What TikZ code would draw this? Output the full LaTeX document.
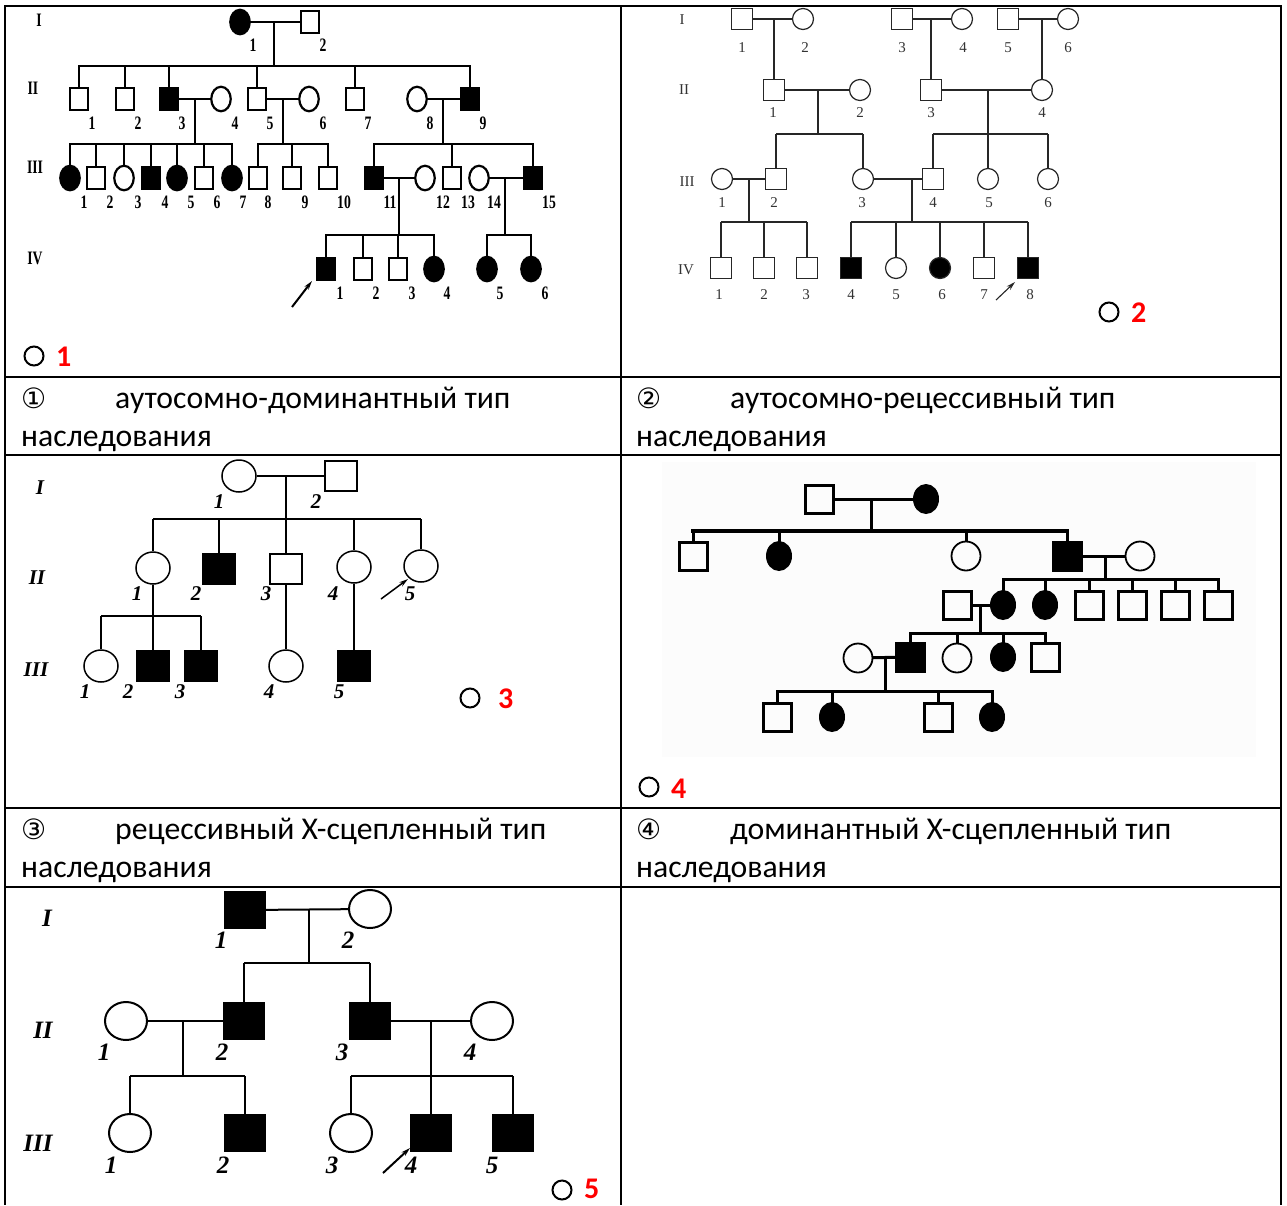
\documentclass[tikz,border=0pt]{standalone}
\usepackage{fontspec}
\setmainfont{Carlito}
\newfontfamily\dejavu{DejaVu Sans}
\newfontfamily\tserif{Liberation Serif}
\newfontfamily\cserif[FakeStretch=0.72]{Liberation Serif}
\usetikzlibrary{shapes.geometric,arrows.meta}
\tikzset{
 aff/.style={fill=black},
 l1/.style={line width=2.2pt,line cap=rect},
 sqA/.style={draw,rectangle,line width=2.2pt,minimum width=18.5pt,minimum height=22.5pt,inner sep=0pt},
 ciA/.style={draw,ellipse,line width=2.2pt,minimum width=19.5pt,minimum height=24.5pt,inner sep=0pt},
 labA/.style={font=\cserif\bfseries\fontsize{19}{19}\selectfont,inner sep=0pt},
 l2/.style={line width=1.2pt,draw=black!85},
 sqB/.style={draw=black!85,rectangle,line width=1.2pt,minimum size=21pt,inner sep=0pt},
 ciB/.style={draw=black!85,circle,line width=1.2pt,minimum size=21pt,inner sep=0pt},
 labB/.style={font=\tserif\fontsize{15}{15}\selectfont,text=black!80,inner sep=0pt},
 l3/.style={line width=1.5pt},
 sqC/.style={draw,rectangle,line width=1.5pt,minimum width=32pt,minimum height=30pt,inner sep=0pt},
 ciC/.style={draw,ellipse,line width=1.5pt,minimum width=34pt,minimum height=32pt,inner sep=0pt},
 labC/.style={font=\tserif\bfseries\itshape\fontsize{21}{21}\selectfont,inner sep=0pt},
 l4/.style={line width=3pt,line cap=rect},
 sqD/.style={draw,rectangle,line width=3pt,minimum width=28pt,minimum height=28pt,inner sep=0pt},
 ciD/.style={draw,ellipse,line width=1.8pt,minimum width=29pt,minimum height=29pt,inner sep=0pt},
 fcD/.style={ellipse,fill=black,minimum width=26pt,minimum height=30pt,inner sep=0pt},
 l5/.style={line width=2pt},
 sqE/.style={draw,rectangle,line width=2pt,minimum width=40pt,minimum height=36pt,inner sep=0pt},
 ciE/.style={draw,ellipse,line width=2pt,minimum width=42pt,minimum height=38pt,inner sep=0pt},
 labE/.style={font=\tserif\bfseries\itshape\fontsize{25}{25}\selectfont,inner sep=0pt},
 mk/.style={draw,circle,line width=2pt,minimum size=19pt,inner sep=0pt},
 num/.style={font=\bfseries\fontsize{30}{30}\selectfont,text=red,anchor=west,inner sep=0pt},
 txt/.style={font=\fontsize{31.7}{38}\selectfont,anchor=base west,inner sep=0pt},
 cnum/.style={font=\dejavu\fontsize{28}{28}\selectfont,anchor=base west,inner sep=0pt},
 arr/.style={-{Stealth[length=9pt,width=5pt]}},
 tbl/.style={line width=2pt}
}
\begin{document}
\begin{tikzpicture}[x=1pt,y=-1pt]
\useasboundingbox (0,0) rectangle (1287,1205);
\fill[white] (0,0) rectangle (1287,1205);
\fill[black!1.2] (662,462) rectangle (1256,757);
% table
\foreach \yy in {6,377,455,808,887} \draw[tbl] (4,\yy) -- (1282,\yy);
\foreach \xx in {5,621,1281} \draw[tbl] (\xx,5) -- (\xx,1205);

% ============ Pedigree 1 ============
\node[labA] (p1r1) at (39,20) {I};
\node[labA] (p1r2) at (33,88) {II};
\node[labA] (p1r3) at (35,167) {III};
\node[labA] (p1r4) at (35,258) {IV};
\node[ciA,aff] (p1a1) at (240,22) {};
\node[sqA] (p1a2) at (310,22) {};
\node[sqA] (p1b1) at (79,99) {};
\node[sqA] (p1b2) at (125,99) {};
\node[sqA,aff] (p1b3) at (169,99) {};
\node[ciA] (p1b4) at (221,99) {};
\node[sqA] (p1b5) at (257,99) {};
\node[ciA] (p1b6) at (309,99) {};
\node[sqA] (p1b7) at (355,99) {};
\node[ciA] (p1b8) at (417,99) {};
\node[sqA,aff] (p1b9) at (470,99) {};
\node[ciA,aff] (p1c1) at (70,178) {};
\node[sqA] (p1c2) at (96,178) {};
\node[ciA] (p1c3) at (124,178) {};
\node[sqA,aff] (p1c4) at (151,178) {};
\node[ciA,aff] (p1c5) at (177,178) {};
\node[sqA] (p1c6) at (204,178) {};
\node[ciA,aff] (p1c7) at (232,178) {};
\node[sqA] (p1c8) at (258,178) {};
\node[sqA] (p1c9) at (292,178) {};
\node[sqA] (p1c10) at (328,178) {};
\node[sqA,aff] (p1c11) at (374,178) {};
\node[ciA] (p1c12) at (425,178) {};
\node[sqA] (p1c13) at (452,178) {};
\node[ciA] (p1c14) at (479,178) {};
\node[sqA,aff] (p1c15) at (533,178) {};
\node[sqA,aff] (p1d1) at (326,269) {};
\node[sqA] (p1d2) at (363,269) {};
\node[sqA] (p1d3) at (398,269) {};
\node[ciA,aff] (p1d4) at (434,269) {};
\node[ciA,aff] (p1d5) at (487,269) {};
\node[ciA,aff] (p1d6) at (531,269) {};
\draw[l1] (p1a1) -- (p1a2);
\coordinate (p1j1) at (274,22); \coordinate (p1s1) at (274,66);
\draw[l1] (p1j1) -- (p1s1);
\draw[l1] (p1b1 |- p1s1) -- (p1b9 |- p1s1);
\foreach \n in {b1,b2,b3,b5,b7,b9} \draw[l1] (p1\n |- p1s1) -- (p1\n.north);
\draw[l1] (p1b3) -- (p1b4);
\coordinate (p1j2) at (195,99); \coordinate (p1s2) at (195,144);
\draw[l1] (p1j2) -- (p1s2);
\draw[l1] (p1c1 |- p1s2) -- (p1c7 |- p1s2);
\foreach \n in {c1,c2,c3,c4,c5,c6,c7} \draw[l1] (p1\n |- p1s2) -- (p1\n.north);
\draw[l1] (p1b5) -- (p1b6);
\coordinate (p1j3) at (283,99); \coordinate (p1s3) at (283,144);
\draw[l1] (p1j3) -- (p1s3);
\draw[l1] (p1c8 |- p1s3) -- (p1c10 |- p1s3);
\foreach \n in {c8,c9,c10} \draw[l1] (p1\n |- p1s3) -- (p1\n.north);
\draw[l1] (p1b8) -- (p1b9);
\coordinate (p1j4) at (443,99); \coordinate (p1s4) at (443,144);
\draw[l1] (p1j4) -- (p1s4);
\draw[l1] (p1c11 |- p1s4) -- (p1c15 |- p1s4);
\foreach \n in {c11,c13,c15} \draw[l1] (p1\n |- p1s4) -- (p1\n.north);
\draw[l1] (p1c11) -- (p1c12);
\coordinate (p1j5) at (399,178); \coordinate (p1s5) at (399,235);
\draw[l1] (p1j5) -- (p1s5);
\draw[l1] (p1d1 |- p1s5) -- (p1d4 |- p1s5);
\foreach \n in {d1,d2,d3,d4} \draw[l1] (p1\n |- p1s5) -- (p1\n.north);
\draw[l1] (p1c14) -- (p1c15);
\coordinate (p1j6) at (505,178); \coordinate (p1s6) at (505,235);
\draw[l1] (p1j6) -- (p1s6);
\draw[l1] (p1d5 |- p1s6) -- (p1d6 |- p1s6);
\foreach \n in {d5,d6} \draw[l1] (p1\n |- p1s6) -- (p1\n.north);
\coordinate (p1w0) at (292,307); \coordinate (p1w1) at (312,281);
\draw[arr,line width=2pt] (p1w0) -- (p1w1);
\foreach \x/\t [count=\k] in {253/1,323/2} \node[labA] (p1la\k) at (\x,45) {\t};
\foreach \x [count=\k] in {92,138,182,235,270,323,368,430,483} \node[labA] (p1lb\k) at (\x,123) {\k};
\foreach \x [count=\k] in {84,110,138,165,191,217,243,268,305,344,390,443,468,494,549} \node[labA] (p1lc\k) at (\x,202) {\k};
\foreach \x [count=\k] in {340,376,412,447,500,545} \node[labA] (p1ld\k) at (\x,293) {\k};
\node[mk] (mk1) at (34,356) {};
\node[num] (nm1) at (56,357) {1};

% ============ Pedigree 2 ============
\node[labB] (p2r1) at (682,20) {I};
\node[labB] (p2r2) at (684,90) {II};
\node[labB] (p2r3) at (687,182) {III};
\node[labB] (p2r4) at (686,270) {IV};
\node[sqB] (p2a1) at (742,19) {};
\node[ciB] (p2a2) at (803,19) {};
\node[sqB] (p2a3) at (902,19) {};
\node[ciB] (p2a4) at (962,19) {};
\node[sqB] (p2a5) at (1008,19) {};
\node[ciB] (p2a6) at (1068,19) {};
\node[sqB] (p2b1) at (774,90) {};
\node[ciB] (p2b2) at (860,90) {};
\node[sqB] (p2b3) at (931,90) {};
\node[ciB] (p2b4) at (1042,90) {};
\node[ciB] (p2c1) at (722,179) {};
\node[sqB] (p2c2) at (776,179) {};
\node[ciB] (p2c3) at (863,179) {};
\node[sqB] (p2c4) at (933,179) {};
\node[ciB] (p2c5) at (988,179) {};
\node[ciB] (p2c6) at (1048,179) {};
\node[sqB] (p2d1) at (721,268) {};
\node[sqB] (p2d2) at (764,268) {};
\node[sqB] (p2d3) at (807,268) {};
\node[sqB,aff] (p2d4) at (851,268) {};
\node[ciB] (p2d5) at (896,268) {};
\node[ciB,aff] (p2d6) at (940,268) {};
\node[sqB] (p2d7) at (984,268) {};
\node[sqB,aff] (p2d8) at (1028,268) {};
\draw[l2] (p2a1) -- (p2a2);
\coordinate (p2j1) at (774,19); \draw[l2] (p2j1) -- (p2b1);
\draw[l2] (p2a3) -- (p2a4);
\coordinate (p2j2) at (931,19); \draw[l2] (p2j2) -- (p2b3);
\draw[l2] (p2a5) -- (p2a6);
\coordinate (p2j3) at (1042,19); \draw[l2] (p2j3) -- (p2b4);
\draw[l2] (p2b1) -- (p2b2);
\coordinate (p2j4) at (818,90); \coordinate (p2s4) at (818,134);
\draw[l2] (p2j4) -- (p2s4);
\draw[l2] (p2c2 |- p2s4) -- (p2c3 |- p2s4);
\foreach \n in {c2,c3} \draw[l2] (p2\n |- p2s4) -- (p2\n.north);
\draw[l2] (p2b3) -- (p2b4);
\coordinate (p2j5) at (988,90); \coordinate (p2s5) at (988,134);
\draw[l2] (p2j5) -- (p2s5);
\draw[l2] (p2c4 |- p2s5) -- (p2c6 |- p2s5);
\foreach \n in {c4,c5,c6} \draw[l2] (p2\n |- p2s5) -- (p2\n.north);
\draw[l2] (p2c1) -- (p2c2);
\coordinate (p2j6) at (749,179); \coordinate (p2s6) at (749,222);
\draw[l2] (p2j6) -- (p2s6);
\draw[l2] (p2d1 |- p2s6) -- (p2d3 |- p2s6);
\foreach \n in {d1,d2,d3} \draw[l2] (p2\n |- p2s6) -- (p2\n.north);
\draw[l2] (p2c3) -- (p2c4);
\coordinate (p2j7) at (912,179); \coordinate (p2s7) at (912,222);
\draw[l2] (p2j7) -- (p2s7);
\draw[l2] (p2d4 |- p2s7) -- (p2d8 |- p2s7);
\foreach \n in {d4,d5,d6,d7,d8} \draw[l2] (p2\n |- p2s7) -- (p2\n.north);
\coordinate (p2w0) at (996,300); \coordinate (p2w1) at (1015,282);
\draw[arr,line width=1.1pt,draw=black!85] (p2w0) -- (p2w1);
\foreach \x [count=\k] in {742,805,902,963,1008,1068} \node[labB] (p2la\k) at (\x,48) {\k};
\foreach \x [count=\k] in {773,860,931,1042} \node[labB] (p2lb\k) at (\x,113) {\k};
\foreach \x [count=\k] in {722,774,862,933,989,1048} \node[labB] (p2lc\k) at (\x,203) {\k};
\foreach \x [count=\k] in {719,764,806,851,896,942,984,1030} \node[labB] (p2ld\k) at (\x,295) {\k};
\node[mk] (mk2) at (1109,312) {};
\node[num] (nm2) at (1131,313) {2};

% ============ Pedigree 3 ============
\node[labC] (p3r1) at (40,488) {I};
\node[labC] (p3r2) at (37,578) {II};
\node[labC] (p3r3) at (36,670) {III};
\node[ciC] (p3a1) at (239,476) {};
\node[sqC] (p3a2) at (341,476) {};
\node[ciC] (p3b1) at (153,568) {};
\node[sqC,aff] (p3b2) at (219,569) {};
\node[sqC] (p3b3) at (286,569) {};
\node[ciC] (p3b4) at (354,567) {};
\node[ciC] (p3b5) at (421,566) {};
\node[ciC] (p3c1) at (101,666) {};
\node[sqC,aff] (p3c2) at (153,666) {};
\node[sqC,aff] (p3c3) at (201,666) {};
\node[ciC] (p3c4) at (286,666) {};
\node[sqC,aff] (p3c5) at (354,666) {};
\draw[l3] (p3a1) -- (p3a2);
\coordinate (p3j1) at (286,476); \coordinate (p3s1) at (286,519);
\draw[l3] (p3j1) -- (p3s1);
\draw[l3] (p3b1 |- p3s1) -- (p3b5 |- p3s1);
\foreach \n in {b1,b2,b3,b4,b5} \draw[l3] (p3\n |- p3s1) -- (p3\n.north);
\draw[l3] (p3b1) -- (p3c2);
\coordinate (p3s2) at (153,616);
\draw[l3] (p3c1 |- p3s2) -- (p3c3 |- p3s2);
\foreach \n in {c1,c3} \draw[l3] (p3\n |- p3s2) -- (p3\n.north);
\draw[l3] (p3b3) -- (p3c4);
\draw[l3] (p3b4) -- (p3c5);
\coordinate (p3w0) at (381,599); \coordinate (p3w1) at (408,579);
\draw[arr,line width=1.5pt] (p3w0) -- (p3w1);
\foreach \x [count=\k] in {219,316} \node[labC] (p3la\k) at (\x,502) {\k};
\foreach \x [count=\k] in {137,196,266,333,410} \node[labC] (p3lb\k) at (\x,594) {\k};
\foreach \x [count=\k] in {85,128,180,269,339} \node[labC] (p3lc\k) at (\x,692) {\k};
\node[mk] (mk3) at (470,698) {};
\node[num] (nm3) at (498,699) {3};

% ============ Pedigree 4 ============
\node[sqD] (p4a1) at (819,499) {};
\node[fcD] (p4a2) at (926,499) {};
\node[sqD] (p4b1) at (693,556) {};
\node[fcD] (p4b2) at (779,556) {};
\node[ciD] (p4b3) at (966,556) {};
\node[sqD,aff] (p4b4) at (1067,556) {};
\node[ciD] (p4b5) at (1140,556) {};
\node[sqD] (p4c1) at (957,605) {};
\node[fcD] (p4c2) at (1003,605) {};
\node[fcD] (p4c3) at (1045,605) {};
\node[sqD] (p4c4) at (1089,605) {};
\node[sqD] (p4c5) at (1132,605) {};
\node[sqD] (p4c6) at (1175,605) {};
\node[sqD] (p4c7) at (1218,605) {};
\node[ciD] (p4d1) at (858,658) {};
\node[sqD,aff] (p4d2) at (910,657) {};
\node[ciD] (p4d3) at (957,658) {};
\node[fcD] (p4d4) at (1003,657) {};
\node[sqD] (p4d5) at (1045,657) {};
\node[sqD] (p4e1) at (777,717) {};
\node[fcD] (p4e2) at (832,717) {};
\node[sqD] (p4e3) at (938,717) {};
\node[fcD] (p4e4) at (992,717) {};
\draw[l4] (p4a1) -- (p4a2);
\coordinate (p4j1) at (871,499); \coordinate (p4s1) at (871,531);
\draw[l4] (p4j1) -- (p4s1);
\draw[l4,line width=4.5pt] (p4b1 |- p4s1) -- (p4b4 |- p4s1);
\foreach \n in {b1,b2,b3,b4} \draw[l4] (p4\n |- p4s1) -- (p4\n.north);
\draw[l4] (p4b4) -- (p4b5);
\coordinate (p4j2) at (1105,556); \coordinate (p4s2) at (1105,579);
\draw[l4] (p4j2) -- (p4s2);
\draw[l4] (p4c2 |- p4s2) -- (p4c7 |- p4s2);
\foreach \n in {c2,c3,c4,c5,c6,c7} \draw[l4] (p4\n |- p4s2) -- (p4\n.north);
\draw[l4] (p4c1) -- (p4c2);
\coordinate (p4j3) at (980,605); \coordinate (p4s3) at (980,633);
\draw[l4] (p4j3) -- (p4s3);
\draw[l4] (p4d2 |- p4s3) -- (p4d5 |- p4s3);
\foreach \n in {d2,d3,d4,d5} \draw[l4] (p4\n |- p4s3) -- (p4\n.north);
\draw[l4] (p4d1) -- (p4d2);
\coordinate (p4j4) at (885,658); \coordinate (p4s4) at (885,691);
\draw[l4] (p4j4) -- (p4s4);
\draw[l4] (p4e1 |- p4s4) -- (p4e4 |- p4s4);
\foreach \n in {e1,e2,e3,e4} \draw[l4] (p4\n |- p4s4) -- (p4\n.north);
\node[mk] (mk4) at (649,787) {};
\node[num] (nm4) at (671,789) {4};

% ============ Pedigree 5 ============
\node[labE] (p5r1) at (47,918) {I};
\node[labE] (p5r2) at (43,1030) {II};
\node[labE] (p5r3) at (38,1143) {III};
\node[sqE,aff] (p5a1) at (245,910) {};
\node[ciE] (p5a2) at (370,909) {};
\node[ciE] (p5b1) at (126,1021) {};
\node[sqE,aff] (p5b2) at (244,1021) {};
\node[sqE,aff] (p5b3) at (370,1021) {};
\node[ciE] (p5b4) at (492,1021) {};
\node[ciE] (p5c1) at (130,1133) {};
\node[sqE,aff] (p5c2) at (245,1133) {};
\node[ciE] (p5c3) at (351,1133) {};
\node[sqE,aff] (p5c4) at (431,1133) {};
\node[sqE,aff] (p5c5) at (513,1133) {};
\draw[l5] (p5a1) -- (p5a2);
\coordinate (p5j1) at (309,909); \coordinate (p5s1) at (309,963);
\draw[l5] (p5j1) -- (p5s1);
\draw[l5] (p5b2 |- p5s1) -- (p5b3 |- p5s1);
\foreach \n in {b2,b3} \draw[l5] (p5\n |- p5s1) -- (p5\n.north);
\draw[l5] (p5b1) -- (p5b2);
\coordinate (p5j2) at (183,1021); \coordinate (p5s2) at (183,1076);
\draw[l5] (p5j2) -- (p5s2);
\draw[l5] (p5c1 |- p5s2) -- (p5c2 |- p5s2);
\foreach \n in {c1,c2} \draw[l5] (p5\n |- p5s2) -- (p5\n.north);
\draw[l5] (p5b3) -- (p5b4);
\coordinate (p5j3) at (431,1021); \coordinate (p5s3) at (431,1076);
\draw[l5] (p5j3) -- (p5s3);
\draw[l5] (p5c3 |- p5s3) -- (p5c5 |- p5s3);
\foreach \n in {c3,c4,c5} \draw[l5] (p5\n |- p5s3) -- (p5\n.north);
\coordinate (p5w0) at (383,1173); \coordinate (p5w1) at (410,1148);
\draw[arr,line width=2pt] (p5w0) -- (p5w1);
\foreach \x [count=\k] in {221,348} \node[labE] (p5la\k) at (\x,940) {\k};
\foreach \x [count=\k] in {104,222,342,470} \node[labE] (p5lb\k) at (\x,1052) {\k};
\foreach \x [count=\k] in {111,223,332,411,492} \node[labE] (p5lc\k) at (\x,1165) {\k};
\node[mk] (mk5) at (562,1190) {};
\node[num] (nm5) at (584,1189) {5};

% ============ Text rows ============
\node[cnum] (cn1) at (21,408) {①};
\node[txt] (tx1) at (115,408) {аутосомно-доминантный тип};
\node[txt] (tx1b) at (21,446) {наследования};
\node[cnum] (cn2) at (636,408) {②};
\node[txt] (tx2) at (730,408) {аутосомно-рецессивный тип};
\node[txt] (tx2b) at (636,446) {наследования};
\node[cnum] (cn3) at (21,839) {③};
\node[txt] (tx3) at (115,839) {рецессивный X-сцепленный тип};
\node[txt] (tx3b) at (21,877) {наследования};
\node[cnum] (cn4) at (636,839) {④};
\node[txt] (tx4) at (730,839) {доминантный X-сцепленный тип};
\node[txt] (tx4b) at (636,877) {наследования};
\end{tikzpicture}
\end{document}
